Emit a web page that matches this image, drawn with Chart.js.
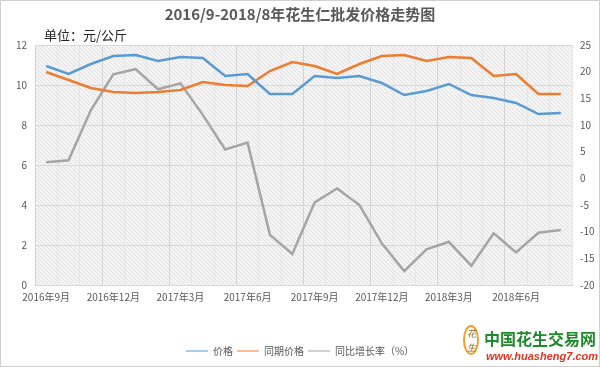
<!DOCTYPE html>
<html>
<head>
<meta charset="utf-8">
<script src="https://cdn.jsdelivr.net/npm/chart.js@4"></script>
<style>body{margin:0;background:#fff}canvas{display:block}</style>
</head>
<body>
<canvas id="myChart" width="600" height="367"></canvas>
<script>
const months = ['2016年9月','2016年10月','2016年11月','2016年12月','2017年1月','2017年2月','2017年3月','2017年4月','2017年5月','2017年6月','2017年7月','2017年8月',
  '2017年9月','2017年10月','2017年11月','2017年12月','2018年1月','2018年2月','2018年3月','2018年4月','2018年5月','2018年6月','2018年7月','2018年8月'];
const price = [10.95, 10.55, 11.05, 11.45, 11.5, 11.2, 11.4, 11.35, 10.45, 10.55, 9.55, 9.55,
  10.45, 10.35, 10.45, 10.1, 9.5, 9.7, 10.05, 9.5, 9.35, 9.1, 8.55, 8.6];
const samePeriod = [10.65, 10.25, 9.85, 9.65, 9.6, 9.65, 9.75, 10.15, 10.0, 9.95, 10.7, 11.15,
  10.95, 10.55, 11.05, 11.45, 11.5, 11.2, 11.4, 11.35, 10.45, 10.55, 9.55, 9.55];
const growth = [3.0, 3.4, 12.8, 19.5, 20.5, 16.7, 17.8, 11.9, 5.4, 6.7, -10.6, -14.2,
  -4.5, -1.9, -5.0, -12.2, -17.4, -13.3, -11.9, -16.4, -10.3, -13.9, -10.2, -9.7];

const FONT = '"Noto Sans CJK SC", "Noto Sans", sans-serif';

// hatched plot background
const pc = document.createElement('canvas');
pc.width = 4; pc.height = 4;
const px = pc.getContext('2d');
px.fillStyle = '#f4f4f4';
px.fillRect(0, 0, 4, 4);
px.strokeStyle = '#e2e2e2';
px.lineWidth = 1;
px.beginPath();
px.moveTo(-1, -1); px.lineTo(5, 5);
px.stroke();

const extras = {
  id: 'extras',
  beforeDraw(chart) {
    const {ctx, chartArea: a} = chart;
    ctx.save();
    ctx.fillStyle = ctx.createPattern(pc, 'repeat');
    ctx.fillRect(a.left, a.top, a.right - a.left, a.bottom - a.top);
    ctx.restore();
  },
  afterDraw(chart) {
    const ctx = chart.ctx;
    ctx.save();
    ctx.strokeStyle = '#d0d0d0';
    ctx.lineWidth = 1;
    ctx.strokeRect(0.5, 0.5, 599, 366);
    ctx.fillStyle = '#262626';
    ctx.font = '13px ' + FONT;
    ctx.textBaseline = 'middle';
    ctx.fillText('单位：元/公斤', 44, 35);
    // site mark
    ctx.strokeStyle = '#f0a030';
    ctx.lineWidth = 2;
    ctx.beginPath();
    ctx.ellipse(471, 340, 7, 14, 0, 0, Math.PI * 2);
    ctx.stroke();
    ctx.fillStyle = '#8a6a20';
    ctx.font = 'italic 9px ' + FONT;
    ctx.fillText('花', 467, 334);
    ctx.fillText('生', 467, 348);
    ctx.fillStyle = '#1f8a2a';
    ctx.font = 'bold 16px ' + FONT;
    ctx.fillText('中国花生交易网', 484, 339);
    ctx.fillStyle = '#e0341e';
    ctx.font = 'italic bold 11px "Liberation Sans", sans-serif';
    ctx.fillText('www.huasheng7.com', 486, 357);
    ctx.restore();
  }
};

const ctx = document.getElementById('myChart').getContext('2d');
new Chart(ctx, {
  type: 'line',
  data: {
    labels: months,
    datasets: [
      {label: '价格', data: price, borderColor: '#5b9bd5', backgroundColor: '#5b9bd5', yAxisID: 'y'},
      {label: '同期价格', data: samePeriod, borderColor: '#ed7d31', backgroundColor: '#ed7d31', yAxisID: 'y'},
      {label: '同比增长率（%）', data: growth, borderColor: '#a5a5a5', backgroundColor: '#a5a5a5', yAxisID: 'y1'}
    ]
  },
  options: {
    responsive: false,
    animation: false,
    layout: {padding: {left: 0, right: 0, top: 0, bottom: 1}},
    elements: {
      line: {borderWidth: 2.5, tension: 0},
      point: {radius: 0}
    },
    plugins: {
      title: {
        display: true,
        text: '2016/9-2018/8年花生仁批发价格走势图',
        color: '#595959',
        font: {family: FONT, size: 15, weight: 'bold'},
        padding: {top: 5, bottom: 22}
      },
      legend: {
        position: 'bottom',
        labels: {
          color: '#595959',
          font: {family: FONT, size: 10},
          usePointStyle: true,
          pointStyle: 'line',
          pointStyleWidth: 22,
          padding: 4
        }
      },
      tooltip: {enabled: false}
    },
    scales: {
      x: {
        offset: true,
        grid: {
          offset: true,
          drawTicks: false,
          color: c => (c.index % 3 === 0 ? '#d4d4d4' : '#e6e6e6')
        },
        border: {color: '#d9d9d9'},
        ticks: {
          color: '#595959',
          font: {family: FONT, size: 10},
          maxRotation: 0,
          autoSkip: false,
          padding: 6,
          callback: (v, i) => (i % 3 === 0 ? months[i] : '')
        },
        afterFit: s => { s.height = 57; }
      },
      y: {
        position: 'left',
        min: 0, max: 12,
        ticks: {stepSize: 2, color: '#595959', font: {family: FONT, size: 10}, padding: 8},
        grid: {color: '#d9d9d9', drawTicks: false},
        border: {display: false},
        afterFit: s => { s.width = 35; }
      },
      y1: {
        position: 'right',
        min: -20, max: 25,
        ticks: {stepSize: 5, color: '#595959', font: {family: FONT, size: 10}, padding: 8},
        grid: {display: false, drawTicks: false},
        border: {display: false},
        afterFit: s => { s.width = 28; }
      }
    }
  },
  plugins: [extras]
});
</script>
</body>
</html>
